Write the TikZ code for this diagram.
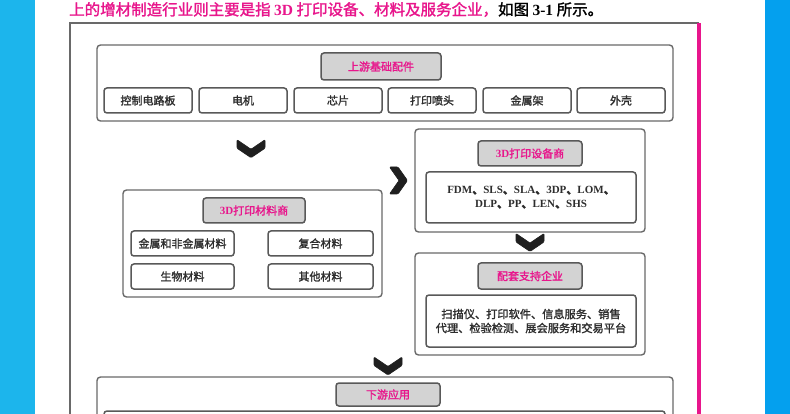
\documentclass[tikz,border=0pt]{standalone}
\usepackage{fontspec}
\usetikzlibrary{calc}
\setmainfont{Liberation Serif}
\newfontfamily\cjk{Noto Sans CJK SC}[FakeBold=1.6]
\newfontfamily\cjkn{Noto Sans CJK SC}
\definecolor{pinkt}{RGB}{232,22,140}
\definecolor{blueL}{RGB}{28,181,236}
\definecolor{blueR}{RGB}{4,160,238}
\definecolor{edgec}{RGB}{105,105,105}
\definecolor{titlefill}{RGB}{211,211,211}
\definecolor{txt}{RGB}{45,45,45}
\tikzset{
  bigbox/.style={draw=edgec, rounded corners=3.5pt, line width=1.4pt, inner sep=0pt, fill=white},
  itembox/.style={draw=edgec!85!black, rounded corners=3pt, line width=1.5pt, inner sep=0pt, fill=white,
     font=\cjk\fontsize{11}{13}\selectfont, text=txt, minimum height=25pt},
  titlebox/.style={draw=edgec!85!black, fill=titlefill, rounded corners=3pt, line width=1.5pt, inner sep=0pt,
     font=\cjk\fontsize{11}{13}\selectfont, text=pinkt, minimum height=25pt},
  chev/.style={fill=black!88, draw=black!88, line width=0.6pt, rounded corners=1pt},
  chevdown/.pic={\path[chev] (-14,-9) -- (0,0.5) -- (14,-9) -- (14,-0.5) -- (0,9) -- (-14,-0.5) -- cycle;},
  chevright/.pic={\path[chev] (-9,-13.5) -- (0.5,0) -- (-9,13.5) -- (-0.5,13.5) -- (9,0) -- (-0.5,-13.5) -- cycle;}
}
\newcommand{\dun}{{\cjk 、}}
\begin{document}
\begin{tikzpicture}[x=1pt,y=-1pt]
\useasboundingbox (0,0) rectangle (790,414);
\clip (0,0) rectangle (790,414);
% page background
\fill[white] (0,0) rectangle (790,414);
\fill[blueL] (0,0) rectangle (35,414);
\fill[blueR] (765,0) rectangle (790,414);
% heading text
\node[anchor=west, inner sep=0pt, text=pinkt, font=\cjk\fontsize{15.5}{17}\selectfont] (head) at (69,9.5)
  {上的增材制造行业则主要是指 {\rmfamily\bfseries 3D} 打印设备、材料及服务企业，\textcolor{black}{如图 {\rmfamily\bfseries 3-1} 所示。}};
% outer frame
\coordinate (fbl) at (70,420);
\coordinate (ftl) at (70,23);
\coordinate (ftr) at (699,23);
\coordinate (fbr) at (699,420);
\draw[edgec, line width=1.2pt] (fbl) -- (ftl) -- (ftr);
\draw[pinkt, line width=4.5pt] (ftr) -- (fbr);

% upstream
\node[bigbox, minimum width=576pt, minimum height=76pt] (up) at (385,83) {};
\node[titlebox, minimum width=120pt, minimum height=27pt] (upt) at (381,66.5) {上游基础配件};
\foreach \n/\x/\t in {u1/148/控制电路板, u2/243/电机, u3/338/芯片, u4/432/打印喷头, u5/527/金属架, u6/621/外壳}{
  \node[itembox, minimum width=88pt] (\n) at (\x,100.5) {\t};
}

% materials
\node[bigbox, minimum width=259pt, minimum height=107pt] (mat) at (252.5,243.5) {};
\node[titlebox, minimum width=102pt] (matt) at (254,210.5) {{\rmfamily\bfseries 3D}打印材料商};
\node[itembox, minimum width=103pt] (m1) at (182.5,243.5) {金属和非金属材料};
\node[itembox, minimum width=105pt] (m2) at (320.5,243.5) {复合材料};
\node[itembox, minimum width=103pt] (m3) at (182.5,276.5) {生物材料};
\node[itembox, minimum width=105pt] (m4) at (320.5,276.5) {其他材料};

% devices
\node[bigbox, minimum width=230pt, minimum height=103pt] (dev) at (530,180.5) {};
\node[titlebox, minimum width=104pt] (devt) at (530,153.5) {{\rmfamily\bfseries 3D}打印设备商};
\node[itembox, minimum width=210pt, minimum height=51pt, align=center,
      font=\rmfamily\bfseries\fontsize{11}{14}\selectfont] (devi) at (531,197.5)
  {FDM\dun SLS\dun SLA\dun 3DP\dun LOM\dun\\DLP\dun PP\dun LEN\dun SHS};

% services
\node[bigbox, minimum width=230pt, minimum height=102pt] (svc) at (530,304) {};
\node[titlebox, minimum width=104pt, minimum height=26pt] (svct) at (530,276) {配套支持企业};
\node[itembox, minimum width=210pt, minimum height=52pt, align=center,
      font=\cjk\fontsize{11.2}{14}\selectfont] (svci) at (531,321)
  {扫描仪、打印软件、信息服务、销售\\代理、检验检测、展会服务和交易平台};

% downstream
\node[bigbox, minimum width=576pt, minimum height=83pt] (down) at (385,418.5) {};
\node[titlebox, minimum width=104pt, minimum height=23pt] (downt) at (388,394.5) {下游应用};
\node[itembox, minimum width=561pt, minimum height=50pt] (downi) at (384.5,436) {};

% chevrons
\pic at ($(mat.north)!0.6!(mat.north |- up.south) + (-1.5,0)$) {chevdown};
\pic at ($(mat.east |- dev.center)!0.5!(dev.west)$) {chevright};
\pic at ($(dev.south)!0.5!(svc.north)$) {chevdown};
\pic at ($(svc.south -| downt.north)!0.5!(down.north -| downt.north)$) {chevdown};
\end{tikzpicture}
\end{document}
